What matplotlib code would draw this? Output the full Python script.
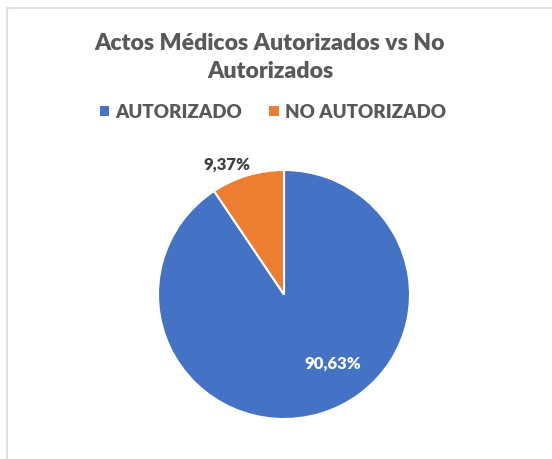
import matplotlib
matplotlib.use("Agg")
import matplotlib.pyplot as plt
from matplotlib.patches import Patch
from matplotlib.lines import Line2D

categories = ["AUTORIZADO", "NO AUTORIZADO"]
values = [90.63, 9.37]
colors = ["#4472C4", "#ED7D31"]

title_text = "Actos Médicos Autorizados vs No\nAutorizados"
font = "Lato"
weight = "heavy"
text_gray = "#595959"

fig = plt.figure(figsize=(5.52, 4.6), dpi=100)
fig.patch.set_facecolor("white")

# light chart-area frame (top and left edges)
fig.add_artist(Line2D([7 / 552, 7 / 552], [0, 1 - 8.5 / 460], color="#E0E0E0", lw=1.5,
                      transform=fig.transFigure))
fig.add_artist(Line2D([7 / 552, 1], [1 - 8.5 / 460, 1 - 8.5 / 460], color="#E0E0E0", lw=1.5,
                      transform=fig.transFigure))

ax = fig.add_axes([158 / 552, 1 - 420 / 460, 252 / 552, 249 / 460])
wedges, _ = ax.pie(values, colors=colors, startangle=90, counterclock=False,
                   wedgeprops=dict(edgecolor="white", linewidth=1.5))
ax.set_xlim(-1, 1)
ax.set_ylim(-1, 1)
ax.set_aspect("auto")
ax.axis("off")

def fmt(v):
    return f"{v:.2f}%".replace(".", ",")

ax.text(0.39, -0.55, fmt(values[0]), ha="center", va="center", color="white",
        fontsize=12, fontweight=weight, family=font)
ax.text(-0.45, 1.05, fmt(values[1]), ha="center", va="center", color="#404040",
        fontsize=12, fontweight=weight, family=font)

fig.text(270 / 552, 1 - 57.5 / 460, title_text, ha="center", va="center", color=text_gray,
         fontsize=16.6, fontweight=weight, family=font, linespacing=1.42)

handles = [Patch(facecolor=c, edgecolor="none") for c in colors]
fig.legend(handles, categories, loc="center", bbox_to_anchor=(273 / 552, 1 - 113 / 460),
           ncol=2, frameon=False, handlelength=0.5, handleheight=0.5,
           handletextpad=0.35, columnspacing=1.45,
           prop=dict(family=font, weight=weight, size=13.5), labelcolor=text_gray)

fig.savefig("out.png", dpi=100, facecolor="white")
